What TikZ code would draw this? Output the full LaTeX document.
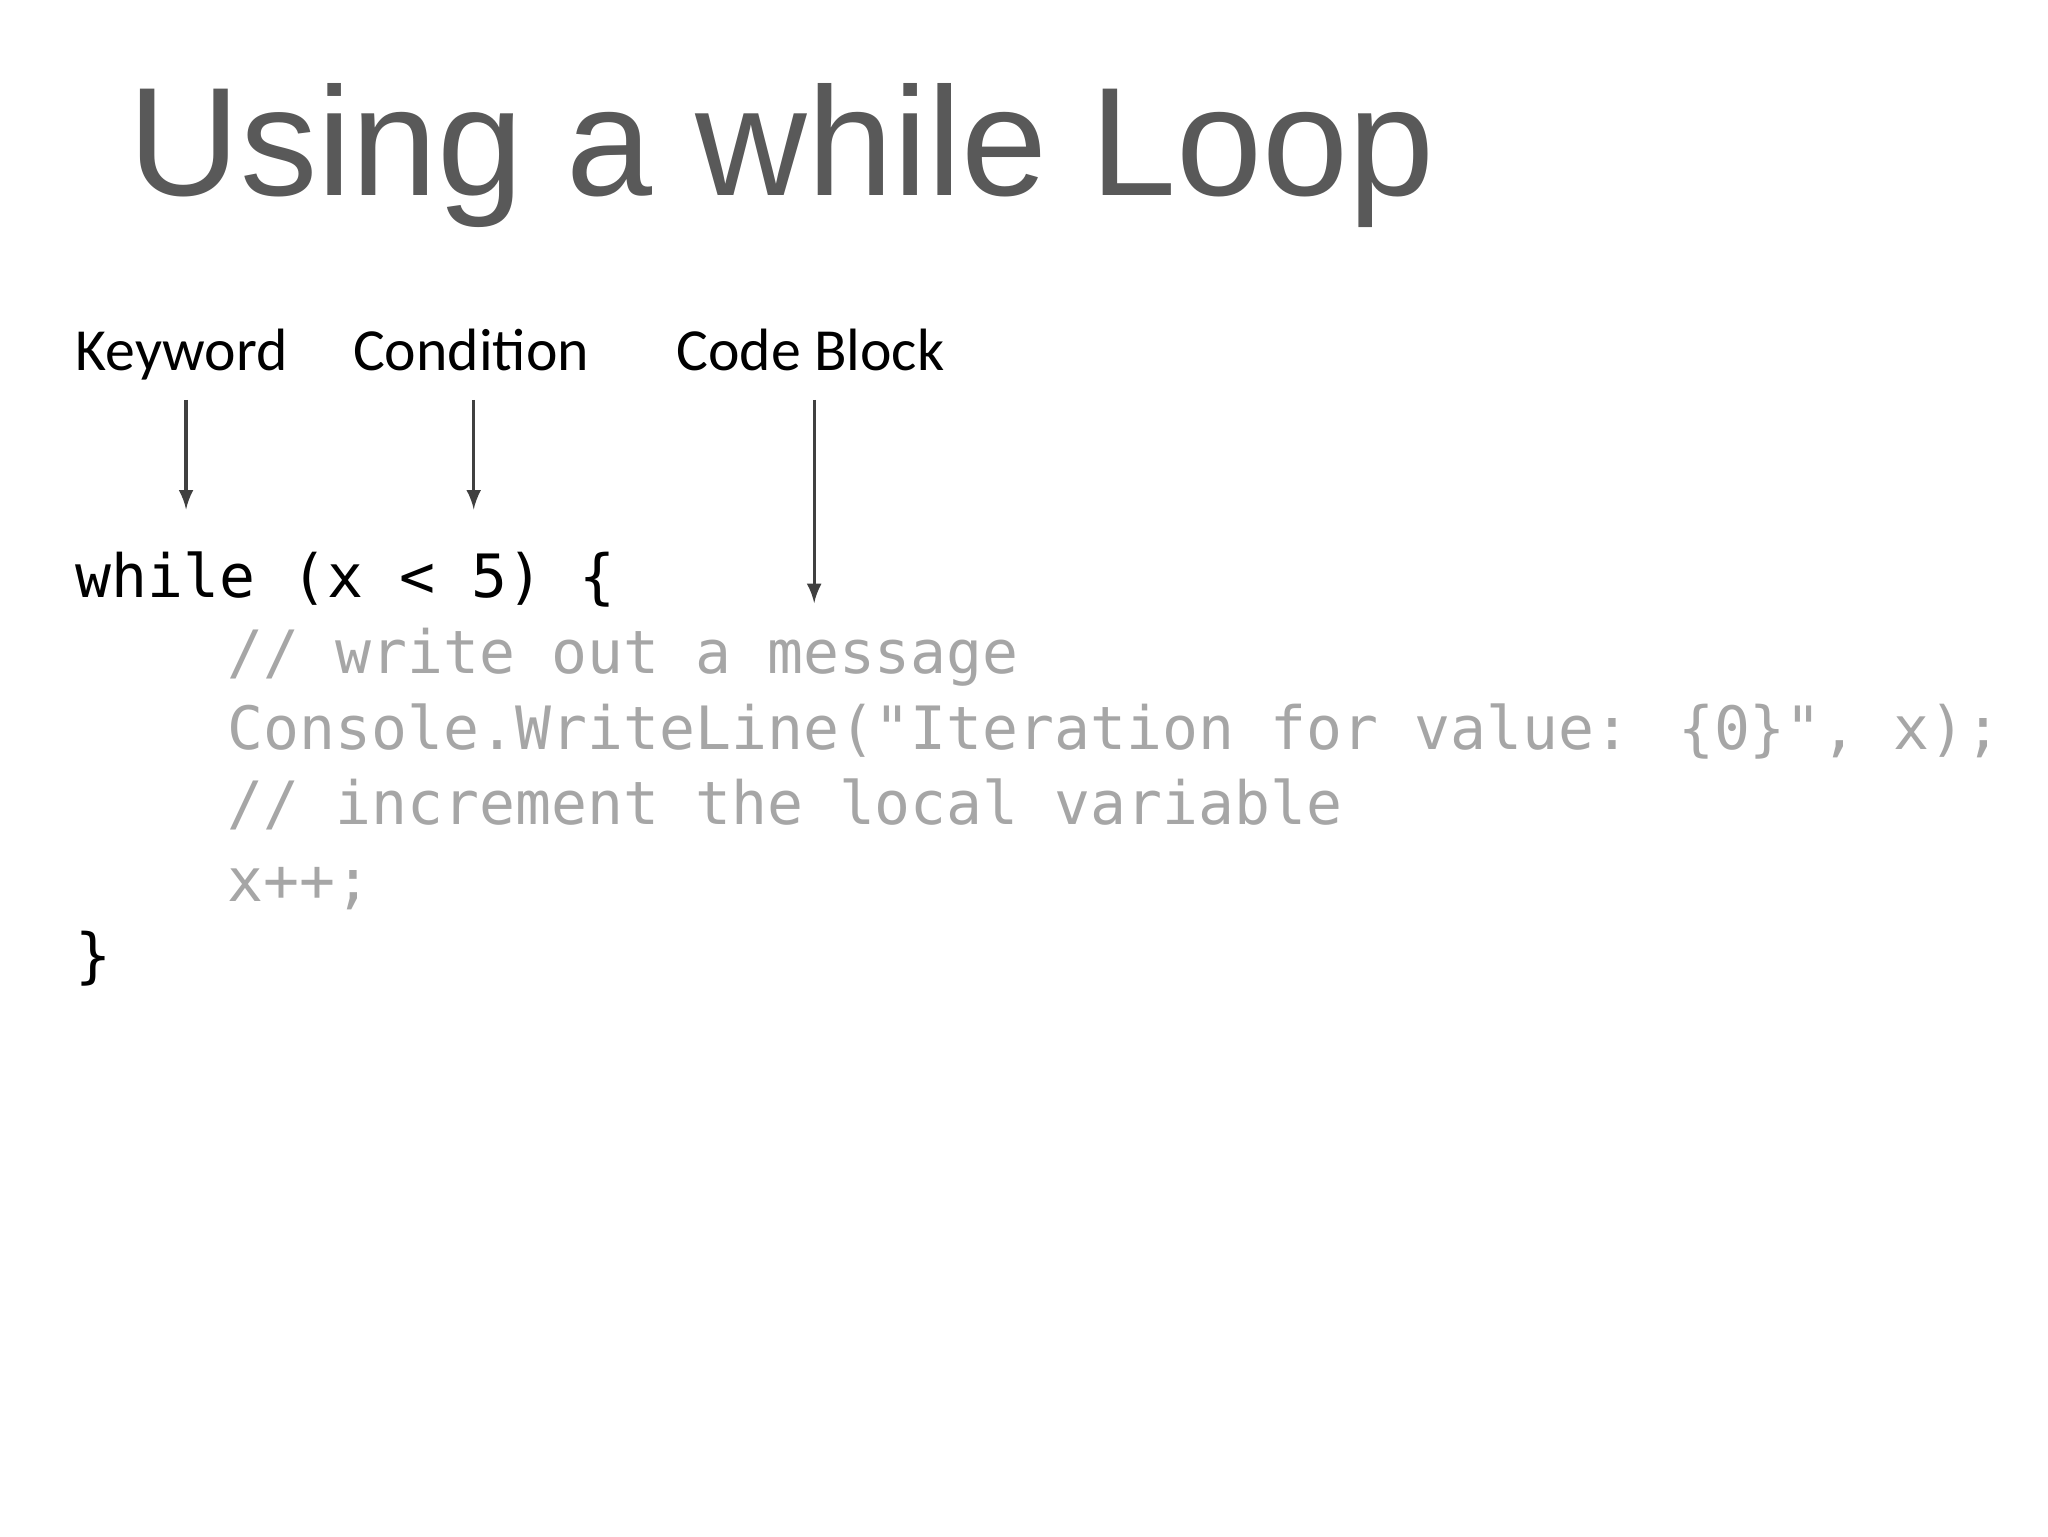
\documentclass[tikz,border=0pt]{standalone}
\usepackage{fontspec}
\setmainfont{Liberation Sans}
\newfontfamily\lblfont{Carlito}
\newfontfamily\codefont{DejaVu Sans Mono}
\begin{document}
\begin{tikzpicture}[x=0.013196cm,y=-0.013196cm,
  lbl/.style={anchor=base west,inner sep=0,font=\lblfont\fontsize{17}{20}\selectfont},
  code/.style={anchor=base west,inner sep=0,text=black!35,font=\codefont\fontsize{17}{20}\selectfont},
  arr/.style={-latex,line width=0.9pt,black!75}]
\useasboundingbox[fill=white] (0,0) rectangle (1552,1164);
\node[anchor=base west,inner sep=0,text=black!65,font=\fontsize{44}{50}\selectfont] (title) at (97,148) {Using a while Loop};
\node[lbl] (kw) at (57,281) {Keyword};
\node[lbl] (cond) at (267,281) {Condition};
\node[lbl] (cb) at (512,281) {Code Block};
\coordinate (kwe) at (141,386);
\coordinate (conde) at (359,386);
\coordinate (cbe) at (617,457);
\draw[arr] (141,303) -- (kwe);
\draw[arr] (359,303) -- (conde);
\draw[arr] (617,303) -- (cbe);
\node[code,text=black] (l1) at (57,453) {while (x < 5) \{};
\node[code] (l2) at (172,510) {// write out a message};
\node[code] (l3) at (172,568) {Console.WriteLine("Iteration for value: \{0\}", x);};
\node[code] (l4) at (172,625) {// increment the local variable};
\node[code] (l5) at (172,683) {x++;};
\node[code,text=black] (l6) at (57,740) {\}};
\end{tikzpicture}
\end{document}
